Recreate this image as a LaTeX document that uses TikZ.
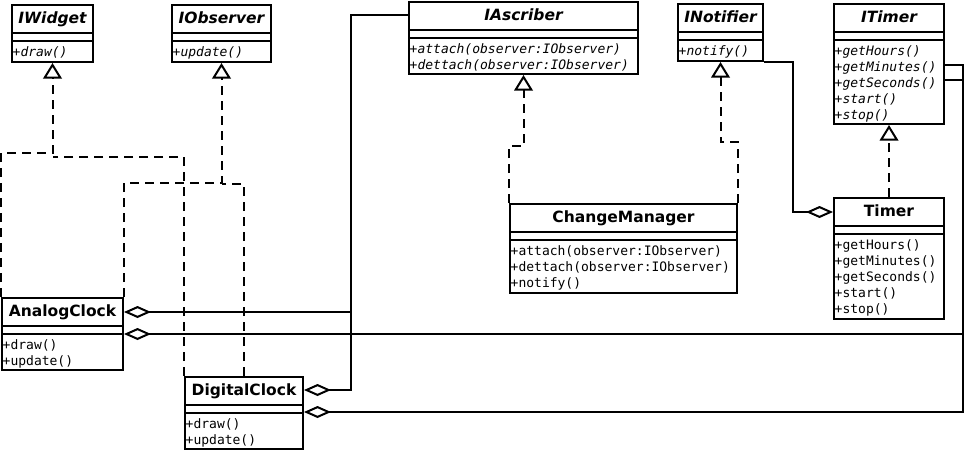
\documentclass[tikz,border=0pt]{standalone}
\usepackage{fontspec}
\usetikzlibrary{arrows.meta}

\newfontfamily\umlsans{DejaVu Sans}[BoldFont={DejaVu Sans Bold},BoldItalicFont={DejaVu Sans Bold Oblique}]
\newfontfamily\umlmono{DejaVu Sans Mono}[ItalicFont={DejaVu Sans Mono Oblique}]

\tikzset{
	classbox/.style={draw, line width=2pt, anchor=north west, inner sep=0pt},
	classname/.style={inner sep=0pt, anchor=base},
	classops/.style={inner sep=0pt, anchor=north west, align=left},
	link/.style={line width=2pt},
	realize/.style={link, dash pattern=on 9pt off 6pt, -{Triangle[open, length=15.5pt, width=18.5pt]}},
	aggr/.style={link, {Diamond[open, length=27pt, width=12pt]}-},
}

% shape, name, position, width, height, title, operations
\newcommand\umlclass[7]{%
	\node[classbox, minimum width=#4, minimum height=#5] (#2) at (#3) {};
	\node[classname, font=\fontsize{15.5}{18}\selectfont\umlsans\bfseries#1] (#2-name) at ([yshift=-19.7pt]#2.north) {#6};
	\draw[link] ([yshift=-29pt]#2.north west) -- ([yshift=-29pt]#2.north east);
	\draw[link] ([yshift=-37pt]#2.north west) -- ([yshift=-37pt]#2.north east);
	\node[classops, font=\fontsize{13}{16}\selectfont\umlmono#1] (#2-ops) at ([xshift=1.5pt, yshift=-37pt]#2.north west) {\rule{0pt}{15pt}#7};
}

\begin{document}
\begin{tikzpicture}[x=1pt, y=-1pt]
			\useasboundingbox (0,0) rectangle (968,450);
			% interfaces
			\umlclass{\itshape}{iwidget}{11,4}{81pt}{57pt}{IWidget}{+draw()}
			\umlclass{\itshape}{iobserver}{171,4}{99pt}{57pt}{IObserver}{+update()}
			\umlclass{\itshape}{ascriber}{408,1}{229pt}{72pt}{IAscriber}{+attach(observer:IObserver)\\\itshape +dettach(observer:IObserver)}
			\umlclass{\itshape}{notifier}{677,3}{85pt}{57pt}{INotifier}{+notify()}
			\umlclass{\itshape}{itimer}{833,3}{110pt}{120pt}{ITimer}{+getHours()\\\itshape +getMinutes()\\\itshape +getSeconds()\\\itshape +start()\\\itshape +stop()}
			% classes
			\umlclass{\upshape}{manager}{509,203}{227pt}{89pt}{ChangeManager}{+attach(observer:IObserver)\\+dettach(observer:IObserver)\\+notify()}
			\umlclass{\upshape}{timer}{833,197}{110pt}{121pt}{Timer}{+getHours()\\+getMinutes()\\+getSeconds()\\+start()\\+stop()}
			\umlclass{\upshape}{analog}{1,297}{121pt}{72pt}{AnalogClock}{+draw()\\+update()}
			\umlclass{\upshape}{digital}{184,376}{118pt}{72pt}{DigitalClock}{+draw()\\+update()}
			
			% row ends and bends
			\coordinate (analog-t) at ([yshift=-15pt]analog.north east);
			\coordinate (analog-s) at ([yshift=-37pt]analog.north east);
			\coordinate (digital-t) at ([yshift=-14pt]digital.north east);
			\coordinate (digital-s) at ([yshift=-36pt]digital.north east);
			\coordinate (ascriber-t) at ([yshift=-14pt]ascriber.north west);
			\coordinate (timer-t) at ([yshift=-15pt]timer.north west);
			\coordinate (itimer-min) at ([yshift=-62pt]itimer.north east);
			\coordinate (itimer-sec) at ([yshift=-77pt]itimer.north east);
			\coordinate (ascbus) at (351,0);
			\coordinate (timbus) at (963,0);
			\coordinate (ntbus) at ([xshift=29pt]notifier.south east);
			\coordinate (wbend) at (0,153);
			\coordinate (wbend2) at (0,157);
			\coordinate (obend) at (0,183);
			\coordinate (obend2) at (0,184);
			\coordinate (abend) at (0,146);
			\coordinate (nbend) at (0,142);
			
			% realizations
			\draw[realize] (analog.north west) |- (iwidget.south |- wbend) -- (iwidget.south);
			\draw[link, dash pattern=on 9pt off 6pt] (digital.north west) |- (iwidget.south |- wbend2);
			\draw[realize] (analog.north east) |- (iobserver.south |- obend) -- (iobserver.south);
			\draw[link, dash pattern=on 9pt off 6pt] (digital.north) |- (iobserver.south |- obend2);
			\draw[realize] (manager.north west) |- (ascriber.south |- abend) -- (ascriber.south);
			\draw[realize] (manager.north east) |- (notifier.south |- nbend) -- (notifier.south);
			\draw[realize] (timer.north) -- (itimer.south);
			
			% aggregations
			\draw[aggr] (digital-t) -| (ascbus |- ascriber-t) -- (ascriber-t);
			\draw[aggr] (analog-t) -- (analog-t -| ascbus);
			\draw[aggr] (digital-s) -| (timbus |- itimer-min) -- (itimer-min);
			\draw[aggr] (analog-s) -- (analog-s -| timbus);
			\draw[link] (itimer-sec) -- (itimer-sec -| timbus);
			\draw[aggr] (timer-t) -| (ntbus) -- (notifier.south east);
		\end{tikzpicture}
\end{document}
